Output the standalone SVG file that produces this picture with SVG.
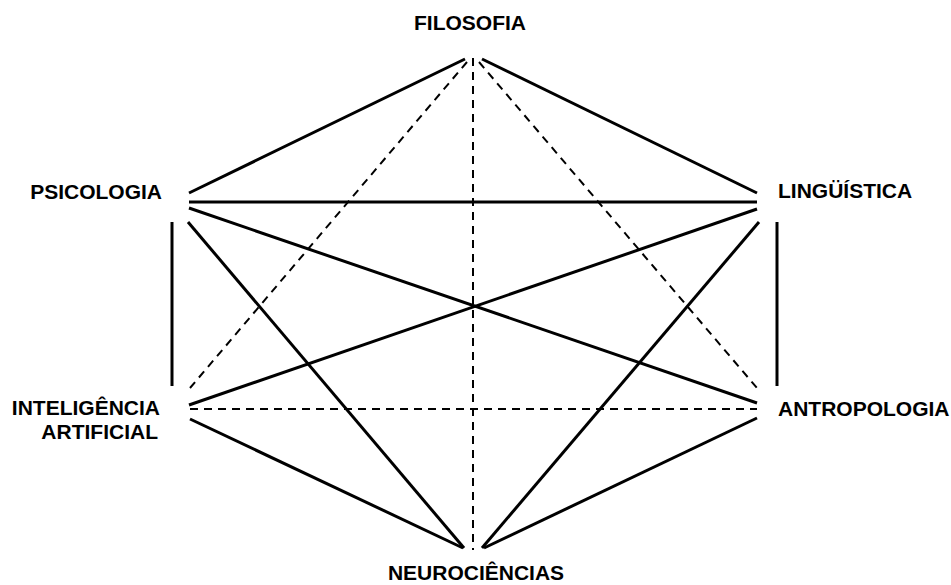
<svg xmlns="http://www.w3.org/2000/svg" width="951" height="585" viewBox="0 0 951 585">
<style>
.lbl{font-family:"Liberation Sans",Arial,sans-serif;font-weight:bold;font-size:21px;fill:#000}
.s{stroke:#000;stroke-width:3;fill:none}
.d{stroke:#000;stroke-width:2;fill:none;stroke-dasharray:8,6}
</style>
<rect width="951" height="585" fill="#fff"/>
<g id="connectors">
<line class="s" x1="189" y1="193" x2="465" y2="59"/>
<line class="s" x1="482" y1="59" x2="757" y2="193"/>
<line class="d" x1="467" y1="62" x2="190" y2="388"/>
<line class="d" x1="479" y1="62" x2="757" y2="388"/>
<line class="d" x1="473" y1="58" x2="473" y2="550"/>
<line class="s" x1="189" y1="202" x2="757" y2="202"/>
<line class="s" x1="189" y1="208" x2="757" y2="403"/>
<line class="s" x1="188" y1="222" x2="464" y2="548"/>
<line class="s" x1="172" y1="222" x2="172" y2="386"/>
<line class="s" x1="777" y1="222" x2="777" y2="386"/>
<line class="s" x1="189" y1="405" x2="757" y2="209"/>
<line class="s" x1="759" y1="222" x2="482" y2="548"/>
<line class="d" x1="190" y1="409" x2="757" y2="409"/>
<line class="s" x1="190" y1="419" x2="463" y2="548"/>
<line class="s" x1="757" y1="418" x2="484" y2="548"/>
</g>
<g id="filosofia"><text class="lbl" x="470" y="30" text-anchor="middle">FILOSOFIA</text></g>
<g id="psicologia"><text class="lbl" x="162" y="199" text-anchor="end">PSICOLOGIA</text></g>
<g id="linguistica"><text class="lbl" x="778" y="198">LINGÜÍSTICA</text></g>
<g id="inteligencia"><text class="lbl" x="160" y="415" text-anchor="end">INTELIGÊNCIA</text><text class="lbl" x="158" y="439" text-anchor="end">ARTIFICIAL</text></g>
<g id="antropologia"><text class="lbl" x="778" y="416">ANTROPOLOGIA</text></g>
<g id="neurociencias"><text class="lbl" x="476" y="580" text-anchor="middle">NEUROCIÊNCIAS</text></g>
</svg>
